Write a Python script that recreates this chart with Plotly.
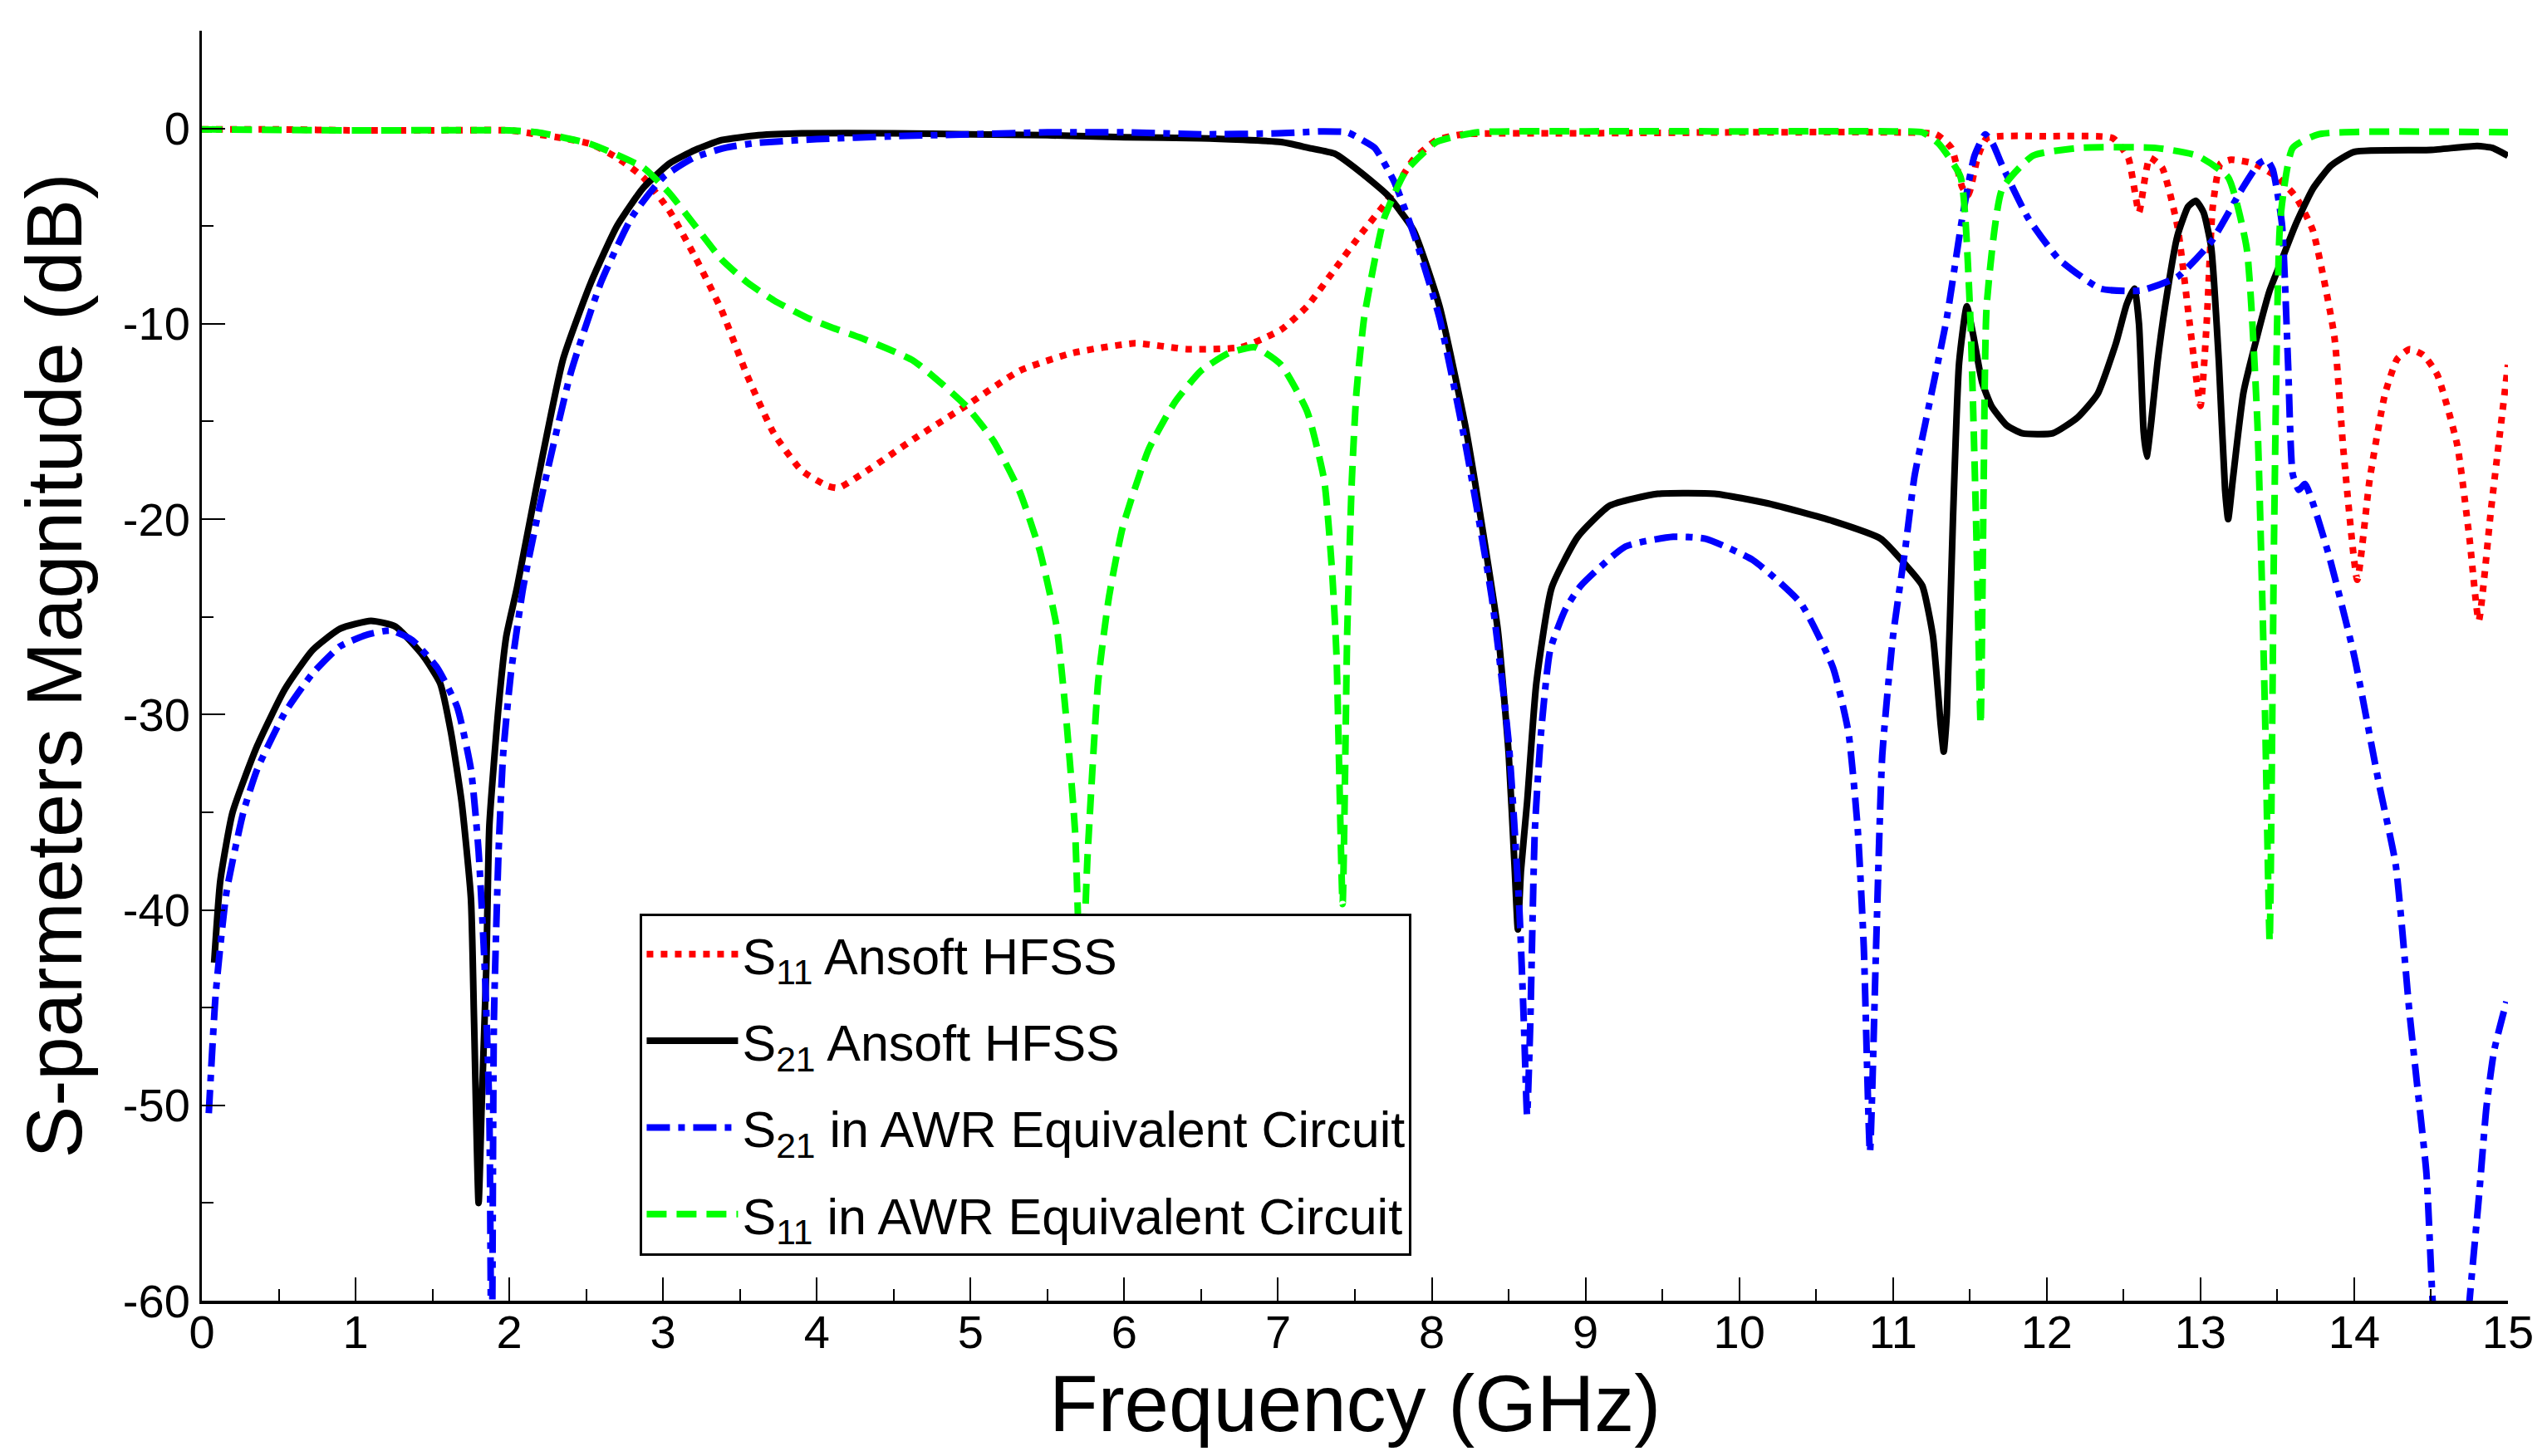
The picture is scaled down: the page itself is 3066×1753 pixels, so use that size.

# -*- coding: utf-8 -*-
"""
S-parameter comparison plot (HFSS vs AWR equivalent circuit)
values read off the published figure
"""

import plotly.graph_objects as go

#frequency (GHz) / magnitude (dB) for each curve
s11_hfss_freq = [0.0, 0.5, 1.0, 1.5, 2.0, 2.18, 2.35, 2.53, 2.7, 2.87, 3.04, 3.21, 3.38, 3.55, 3.72, 3.9,
                 4.07, 4.14, 4.35, 4.63, 4.97, 5.32, 5.66, 6.07, 6.41, 6.76, 7.02, 7.19, 7.37, 7.53, 7.71,
                 7.88, 8.03, 8.2, 9.0, 10.0, 11.0, 11.28, 11.38, 11.45, 11.49, 11.55, 11.61, 12.0, 12.43,
                 12.53, 12.6, 12.64, 12.67, 12.75, 12.85, 12.93, 13.0, 13.04, 13.08, 13.13, 13.2, 13.35,
                 13.5, 13.62, 13.73, 13.87, 13.93, 14.02, 14.1, 14.2, 14.28, 14.36, 14.45, 14.54, 14.67,
                 14.75, 14.81, 14.89, 15.0]
s11_hfss_db = [-0.05, -0.05, -0.1, -0.1, -0.1, -0.3, -0.5, -0.8, -1.5, -2.5, -4.2, -6.6, -9.3, -12.7, -15.6, -17.5,
               -18.3, -18.4, -17.4, -15.9, -14.2, -12.4, -11.5, -11.0, -11.3, -11.2, -10.3, -9.1, -7.2, -5.5, -3.7,
               -1.6, -0.6, -0.3, -0.25, -0.2, -0.2, -0.3, -1.0, -3.0, -3.4, -1.5, -0.5, -0.4, -0.5,
               -1.5, -4.3, -2.5, -1.5, -2.0, -5.0, -10.0, -14.2, -10.0, -4.0, -1.8, -1.6, -1.8,
               -2.5, -3.5, -5.2, -10.6, -16.5, -23.1, -18.0, -13.6, -11.8, -11.3, -11.6, -12.6, -16.2,
               -21.0, -25.2, -19.5, -12.1]

s21_hfss_freq = [0.08, 0.12, 0.2, 0.36, 0.54, 0.72, 0.9, 1.1, 1.26, 1.44, 1.55, 1.62, 1.69, 1.75, 1.77, 1.8,
                 1.82, 1.85, 1.87, 1.93, 1.98, 2.05, 2.18, 2.35, 2.53, 2.7, 2.87, 3.04, 3.21, 3.38, 3.62,
                 3.9, 4.5, 5.0, 5.5, 6.0, 6.5, 7.02, 7.2, 7.37, 7.53, 7.71, 7.88, 8.05, 8.22, 8.35, 8.43,
                 8.5, 8.54, 8.56, 8.58, 8.62, 8.68, 8.78, 8.95, 9.16, 9.47, 9.84, 10.19, 10.61, 10.92,
                 11.1, 11.19, 11.26, 11.31, 11.33, 11.35, 11.39, 11.43, 11.48, 11.52, 11.58, 11.64, 11.74,
                 11.84, 12.04, 12.2, 12.33, 12.45, 12.52, 12.57, 12.6, 12.63, 12.65, 12.68, 12.72, 12.77,
                 12.85, 12.92, 12.97, 13.02, 13.07, 13.12, 13.16, 13.18, 13.21, 13.28, 13.37, 13.45, 13.53,
                 13.62, 13.73, 13.85, 14.0, 14.5, 14.8, 14.9, 15.0]
s21_hfss_db = [-42.7, -38.5, -35.0, -31.6, -28.7, -26.7, -25.6, -25.2, -25.5, -27.0, -28.4, -30.9, -34.5, -39.4, -45.5, -55.0,
               -50.0, -43.0, -35.7, -29.6, -26.0, -23.5, -18.2, -11.8, -7.9, -5.0, -3.05, -1.8, -1.1, -0.6, -0.35,
               -0.25, -0.25, -0.3, -0.35, -0.45, -0.5, -0.7, -1.0, -1.3, -2.2, -3.4, -5.2, -9.1, -15.3, -21.5, -25.7,
               -32.0, -38.0, -41.0, -38.0, -34.5, -28.4, -23.5, -20.9, -19.3, -18.7, -18.7, -19.2, -20.1, -21.0,
               -22.5, -23.4, -26.0, -30.5, -31.9, -30.0, -20.0, -12.0, -9.1, -10.5, -13.0, -14.2, -15.2,
               -15.6, -15.6, -14.8, -13.6, -11.0, -9.0, -8.2, -10.0, -15.5, -16.8, -15.0, -12.0, -9.1,
               -5.5, -4.0, -3.7, -4.3, -6.1, -12.0, -18.5, -20.0, -18.0, -13.5, -10.6, -8.3, -6.7,
               -4.9, -3.1, -1.9, -1.2, -1.1, -0.9, -1.0, -1.4]

s21_awr_freq = [0.045, 0.09, 0.16, 0.27, 0.36, 0.54, 0.72, 0.9, 1.08, 1.23, 1.37, 1.53, 1.66, 1.75, 1.8, 1.84,
                1.87, 1.885, 1.9, 1.93, 1.96, 2.01, 2.09, 2.22, 2.4, 2.6, 2.8, 3.0, 3.2, 3.4, 3.6, 4.0,
                4.5, 5.0, 5.5, 6.0, 6.5, 7.0, 7.3, 7.45, 7.55, 7.63, 7.76, 7.9, 8.05, 8.22, 8.39, 8.5,
                8.57, 8.6, 8.62, 8.64, 8.67, 8.71, 8.77, 8.87, 8.97, 9.26, 9.57, 9.78, 10.09, 10.4, 10.61,
                10.71, 10.77, 10.81, 10.85, 10.89, 10.93, 11.0, 11.08, 11.14, 11.21, 11.35, 11.45, 11.53,
                11.6, 11.65, 11.71, 11.88, 12.08, 12.35, 12.61, 12.85, 13.07, 13.27, 13.38, 13.43, 13.47,
                13.53, 13.57, 13.6, 13.64, 13.68, 13.83, 14.0, 14.16, 14.27, 14.36, 14.41, 14.47, 14.51,
                14.63, 14.75, 14.81, 14.86, 14.91, 14.99]
s21_awr_db = [-50.4, -44.3, -39.1, -35.0, -32.8, -29.9, -27.9, -26.5, -25.9, -25.7, -26.2, -27.6, -29.6, -32.8, -37.0, -43.0,
              -50.4, -66.0, -45.5, -37.0, -32.0, -27.9, -23.5, -18.5, -12.5, -7.8, -4.5, -2.5, -1.5, -1.0, -0.75, -0.55,
              -0.4, -0.3, -0.2, -0.2, -0.3, -0.25, -0.15, -0.2, -0.6, -1.0, -2.8, -5.8, -9.7, -16.2, -24.0, -31.4,
              -40.0, -46.0, -50.5, -46.0, -36.0, -31.0, -26.7, -24.6, -23.4, -21.4, -20.9, -21.0, -22.1, -24.3, -27.6,
              -30.9, -35.8, -41.9, -52.4, -41.9, -32.1, -26.0, -21.5, -17.8, -15.1, -9.7, -4.6, -1.4,
              -0.3, -0.8, -1.9, -4.6, -6.7, -8.2, -8.3, -7.6, -5.8, -3.1, -1.8, -1.6, -2.1,
              -4.9, -12.1, -17.7, -18.5, -18.2, -21.7, -27.0, -33.5, -37.7, -45.3, -49.0, -53.5, -60.0,
              -72.0, -60.0, -54.8, -50.1, -47.2, -44.7]

s11_awr_freq = [0.0, 1.0, 2.0, 2.18, 2.53, 2.87, 3.04, 3.21, 3.38, 3.55, 3.72, 3.94, 4.1, 4.28, 4.63, 4.97,
                5.15, 5.32, 5.45, 5.56, 5.62, 5.68, 5.72, 5.76, 5.83, 5.9, 5.99, 6.16, 6.33, 6.5, 6.68,
                6.85, 7.02, 7.19, 7.3, 7.35, 7.38, 7.42, 7.45, 7.48, 7.51, 7.56, 7.63, 7.69, 7.83, 8.03,
                8.3, 9.0, 10.0, 11.0, 11.19, 11.3, 11.44, 11.5, 11.54, 11.57, 11.59, 11.61, 11.71, 11.91,
                12.21, 12.71, 12.98, 13.18, 13.3, 13.37, 13.42, 13.45, 13.48, 13.52, 13.6, 13.77, 15.0]
s11_awr_db = [-0.05, -0.1, -0.1, -0.2, -0.8, -2.0, -3.3, -5.0, -6.7, -7.9, -8.8, -9.7, -10.2, -10.7, -11.9, -14.2,
              -16.0, -18.6, -21.6, -25.5, -30.0, -36.0, -45.0, -37.4, -28.3, -24.0, -20.4, -16.4, -14.0, -12.4, -11.5,
              -11.2, -12.1, -14.5, -18.0, -22.5, -26.9, -39.7, -25.8, -18.0, -13.5, -9.7, -6.7, -4.6, -2.2, -0.7,
              -0.2, -0.15, -0.15, -0.15, -0.2, -0.8, -2.5, -9.1, -20.0, -30.5, -18.0, -9.0, -3.1, -1.4,
              -1.0, -1.0, -1.4, -2.5, -6.1, -15.0, -30.0, -41.6, -20.0, -4.6, -1.0, -0.3, -0.2]

#tick values for the axes (hyphen minus like the original)
x_ticks = list(range(0, 16))
y_ticks = [-60, -50, -40, -30, -20, -10, 0]
y_tick_text = ['-60', '-50', '-40', '-30', '-20', '-10', '0']

font_family = 'Liberation Sans, Arial, sans-serif'
line_smooth = 0.5 #small spline smoothing so the read points don't look polygonal

fig = go.Figure()
#order matches the legend of the original, each in its own group to get row spacing
fig.add_trace(go.Scatter(x=s11_hfss_freq, y=s11_hfss_db, mode='lines', legendgroup='a',
                         name='S<sub>11</sub> Ansoft HFSS',
                         line=dict(color='#ff0000', width=8, dash='8px,9px',
                                   shape='spline', smoothing=line_smooth)))
fig.add_trace(go.Scatter(x=s21_hfss_freq, y=s21_hfss_db, mode='lines', legendgroup='b',
                         name='S<sub>21</sub> Ansoft HFSS',
                         line=dict(color='#000000', width=8,
                                   shape='spline', smoothing=line_smooth)))
fig.add_trace(go.Scatter(x=s21_awr_freq, y=s21_awr_db, mode='lines', legendgroup='c',
                         name='S<sub>21</sub> in AWR Equivalent Circuit',
                         line=dict(color='#0000ff', width=8, dash='28px,10px,8px,10px',
                                   shape='spline', smoothing=line_smooth)))
fig.add_trace(go.Scatter(x=s11_awr_freq, y=s11_awr_db, mode='lines', legendgroup='d',
                         name='S<sub>11</sub> in AWR Equivalent Circuit',
                         line=dict(color='#00ff00', width=8, dash='24px,12px',
                                   shape='spline', smoothing=line_smooth)))

#axis setup (left/bottom lines only, inside ticks)
fig.update_xaxes(range=[0, 15], tickvals=x_ticks, ticks='inside', ticklen=28, tickwidth=2,
                 tickcolor='black', showline=True, linecolor='black', linewidth=4,
                 showgrid=False, zeroline=False, ticklabelstandoff=-14,
                 minor=dict(dtick=0.5, tick0=0, ticks='inside', ticklen=14, tickwidth=2,
                            tickcolor='black', showgrid=False),
                 tickfont=dict(size=56, color='black', family=font_family))
fig.update_yaxes(range=[-60, 5], tickvals=y_ticks, ticktext=y_tick_text, ticks='inside',
                 ticklen=28, tickwidth=2, tickcolor='black', showline=True, linecolor='black',
                 linewidth=3, showgrid=False, zeroline=False,
                 minor=dict(dtick=5, tick0=0, ticks='inside', ticklen=14, tickwidth=2,
                            tickcolor='black', showgrid=False),
                 tickfont=dict(size=56, color='black', family=font_family),
                 title=dict(text='S-parmeters Magnitude (dB)', standoff=18,
                            font=dict(size=94, color='black', family=font_family)))

#x title as annotation so it sits as close to the ticks as the original
fig.add_annotation(text='Frequency (GHz)', xref='paper', yref='paper', x=0.5, y=-0.081,
                   xanchor='center', yanchor='middle', showarrow=False,
                   font=dict(size=96, color='black', family=font_family))

fig.update_layout(width=3066, height=1753,
                  margin=dict(l=235, r=55, t=29, b=195, autoexpand=False),
                  paper_bgcolor='white', plot_bgcolor='white',
                  font=dict(family=font_family, color='black'),
                  showlegend=True,
                  legend=dict(x=0.19, y=0.305, xanchor='left', yanchor='top',
                              bgcolor='white', bordercolor='black', borderwidth=3,
                              font=dict(size=61, color='black', family=font_family),
                              itemwidth=110, tracegroupgap=22))

fig.write_html("out.html")
